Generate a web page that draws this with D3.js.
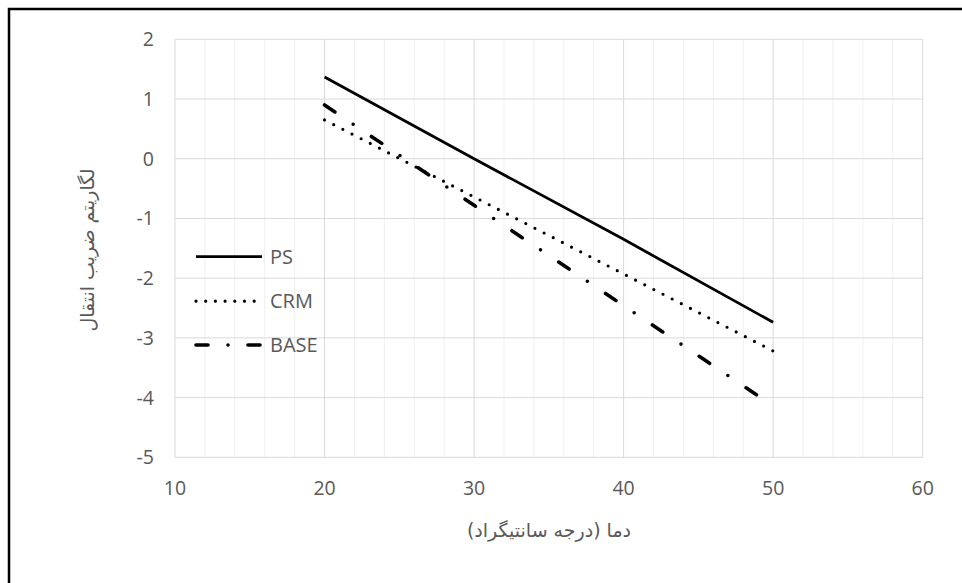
<!doctype html>
<html lang="fa">
<head>
<meta charset="utf-8">
<script src="https://d3js.org/d3.v7.min.js"></script>
<style>
  body { margin: 0; background: #fff; }
  svg { display: block; }
  .tick-label { font-family: "Open Sans", sans-serif; font-size: 19.5px; fill: #595959; }
  .legend-label { font-family: "Open Sans", sans-serif; font-size: 20px; fill: #595959; }
  .axis-title { font-family: "DejaVu Sans", sans-serif; font-size: 19px; fill: #595959; }
</style>
</head>
<body>
<svg id="chart" width="962" height="583"></svg>
<script>
// temperatures (deg C) and log of transfer coefficient
var temps = [20, 30, 40, 50];
var psValues = [1.37, 0.0, -1.35, -2.74];
var crmValues = [0.65, -0.64, -1.93, -3.22];
var baseValues = [0.90, -0.78, -2.46, -4.14];
var seriesNames = ["PS", "CRM", "BASE"];
var xTicks = [10, 20, 30, 40, 50, 60];
var yTicks = [-5, -4, -3, -2, -1, 0, 1, 2];

var svg = d3.select("#chart");

var xScale = d3.scaleLinear().domain([10, 60]).range([175, 922.7]);
var yScale = d3.scaleLinear().domain([-5, 2]).range([457.3, 39.3]);

// outer frame (only left and top edges visible)
svg.append("rect").attr("x", 9).attr("y", 9).attr("width", 1000).attr("height", 1000)
  .attr("fill", "none").attr("stroke", "#000").attr("stroke-width", 2.5);

// minor vertical grid
var minor = d3.range(12, 60, 2).filter(function(v) { return v % 10 != 0; });
svg.append("g").selectAll("line").data(minor).enter().append("line")
  .attr("x1", function(d) { return xScale(d); }).attr("x2", function(d) { return xScale(d); })
  .attr("y1", yScale(2)).attr("y2", yScale(-5))
  .attr("stroke", "#efefef").attr("stroke-width", 1);

// major grid
svg.append("g").selectAll("line").data(xTicks).enter().append("line")
  .attr("x1", function(d) { return xScale(d); }).attr("x2", function(d) { return xScale(d); })
  .attr("y1", yScale(2)).attr("y2", yScale(-5))
  .attr("stroke", "#d9d9d9").attr("stroke-width", 1);
svg.append("g").selectAll("line").data(yTicks).enter().append("line")
  .attr("x1", xScale(10)).attr("x2", xScale(60))
  .attr("y1", function(d) { return yScale(d); }).attr("y2", function(d) { return yScale(d); })
  .attr("stroke", "#d9d9d9").attr("stroke-width", 1);

// tick labels
svg.append("g").selectAll("text").data(yTicks).enter().append("text")
  .attr("class", "tick-label").attr("text-anchor", "end")
  .attr("x", 154).attr("y", function(d) { return yScale(d) + 7; })
  .text(function(d) { return d; });
svg.append("g").selectAll("text").data(xTicks).enter().append("text")
  .attr("class", "tick-label").attr("text-anchor", "middle")
  .attr("x", function(d) { return xScale(d); }).attr("y", 495)
  .text(function(d) { return d; });

// axis titles
svg.append("text").attr("class", "axis-title").attr("text-anchor", "middle")
  .attr("direction", "rtl")
  .attr("x", 549).attr("y", 537).text("دما (درجه سانتیگراد)");
svg.append("text").attr("class", "axis-title").attr("text-anchor", "middle")
  .attr("direction", "rtl")
  .attr("transform", "translate(94,250) rotate(-90)").text("لگاریتم ضریب انتقال");

var styles = [
  { w: 2.8, dash: null, cap: "butt" },
  { w: 3.2, dash: "0,10.29", cap: "round" },
  { w: 3.6, dash: "12.5,21.95,0,21.95", cap: "round" }
];
var allValues = [psValues, crmValues, baseValues];

var line = d3.line()
  .x(function(d) { return xScale(d[0]); })
  .y(function(d) { return yScale(d[1]); });

allValues.forEach(function(vals, i) {
  var pts = temps.map(function(t, j) { return [t, vals[j]]; });
  var p = svg.append("path").datum(pts).attr("d", line)
    .attr("fill", "none").attr("stroke", "#000")
    .attr("stroke-width", styles[i].w).attr("stroke-linecap", styles[i].cap);
  if (styles[i].dash) p.attr("stroke-dasharray", styles[i].dash);
});

// legend
var legendY = [256.7, 301.2, 345];
var legendDash = [null, "0,9.7", "12,20,0,20"];
seriesNames.forEach(function(name, i) {
  var l = svg.append("line").attr("x1", 196).attr("x2", 262)
    .attr("y1", legendY[i]).attr("y2", legendY[i])
    .attr("stroke", "#000").attr("stroke-width", styles[i].w)
    .attr("stroke-linecap", styles[i].cap);
  if (legendDash[i]) l.attr("stroke-dasharray", legendDash[i]);
  svg.append("text").attr("class", "legend-label")
    .attr("x", 270).attr("y", legendY[i] + 7).text(name);
});
</script>
</body>
</html>
